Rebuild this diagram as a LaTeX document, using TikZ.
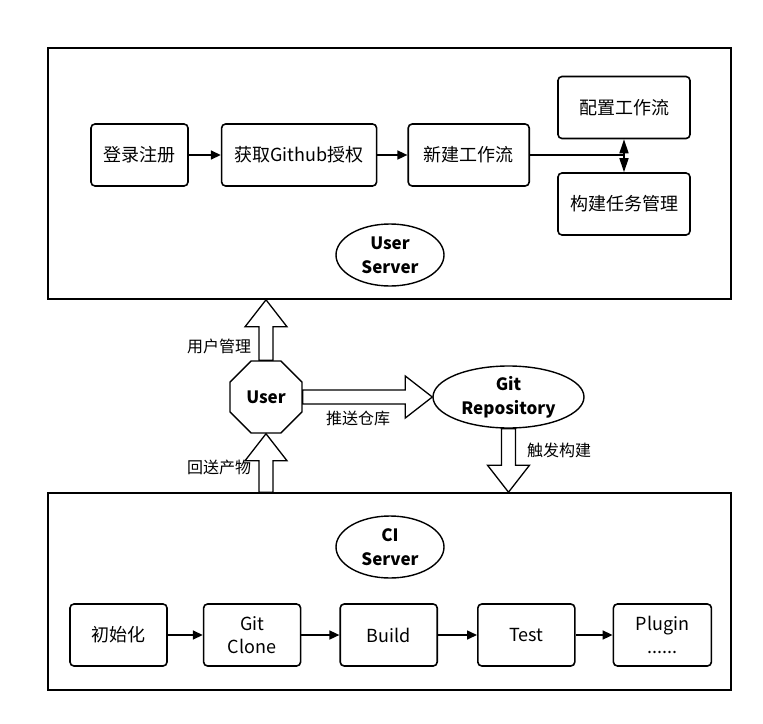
\documentclass[tikz,border=0pt]{standalone}
\usepackage{fontspec}
\setmainfont{Noto Sans CJK SC}
\usetikzlibrary{positioning, arrows.meta, shapes.geometric, calc}
\tikzset{
>={Triangle[length=10pt,width=9pt]}, % small filled arrow heads
node distance=32pt, % gap between two boxes of a row
every node/.style={font=\fontsize{18}{23}\selectfont},
task/.style={draw, line width=1.6pt, rounded corners=4pt, minimum width=97pt, minimum height=62pt, inner sep=0pt, align=center}, % one step of a flow
area/.style={draw, line width=1.6pt, minimum width=683pt, inner sep=0pt}, % a server frame
server/.style={draw, ellipse, line width=1.4pt, minimum width=108pt, minimum height=62pt, inner sep=0pt, align=center, font=\bfseries\fontsize{17}{24}\selectfont},
note/.style={font=\fontsize{16}{20}\selectfont}, % text beside a big arrow
flow/.style={->, line width=1.6pt},
fat/.style={draw, fill=white, line width=1.3pt, line join=miter},
}
% hollow block arrow from #1 to #2
\newcommand{\fatarrow}[2]{%
  \draw[fat] let \p1=(#1), \p2=(#2), \n1={veclen(\x2-\x1,\y2-\y1)},
    \n2={(\x2-\x1)/\n1}, \n3={(\y2-\y1)/\n1} in
    ({\x1-(\n3)*7pt},{\y1+(\n2)*7pt})
    -- ({\x2-(\n2)*27pt-(\n3)*7pt},{\y2-(\n3)*27pt+(\n2)*7pt})
    -- ({\x2-(\n2)*27pt-(\n3)*21pt},{\y2-(\n3)*27pt+(\n2)*21pt})
    -- (\p2)
    -- ({\x2-(\n2)*27pt+(\n3)*21pt},{\y2-(\n3)*27pt-(\n2)*21pt})
    -- ({\x2-(\n2)*27pt+(\n3)*7pt},{\y2-(\n3)*27pt-(\n2)*7pt})
    -- ({\x1+(\n3)*7pt},{\y1-(\n2)*7pt}) -- cycle;}

\begin{document}
\begin{tikzpicture}[x=1pt, y=-1pt]
      \useasboundingbox (0,0) rectangle (763,723);
      % user server
      \node[area, minimum height=251pt] (userbox) at (389.5,173.5) {};
      \node[task] (login) at (139.5,155) {登录注册};
      \node[task, right=of login, minimum width=155pt] (oauth) {获取Github授权};
      \node[task, right=30pt of oauth, minimum width=121pt] (newflow) {新建工作流};
      \node[task, minimum width=132pt] (config) at (624,107.5) {配置工作流};
      \node[task, minimum width=132pt] (manage) at (624,204) {构建任务管理};
      \node[server] (userserver) at (390,255) {User\\Server};
      \draw[flow] (login) -- (oauth);
      \draw[flow] (oauth) -- (newflow);
      \draw[line width=1.6pt] (newflow) -- (newflow -| config.south);
      \draw[line width=1.6pt, {Triangle[length=14pt,width=9pt]}-{Triangle[length=14pt,width=9pt]}] (config.south) -- (manage.north);

      % ci server
      \node[area, minimum height=197pt] (cibox) at (389.5,591.5) {};
      \node[server] (ciserver) at (390,547) {CI\\Server};
      \node[task] (init) at (118.5,635) {初始化};
      \node[task, right=35pt of init] (clone) {Git\\Clone};
      \node[task, right=38pt of clone] (build) {Build};
      \node[task, right=39pt of build] (test) {Test};
      \node[task, right=37pt of test, minimum width=98pt] (plugin) {Plugin\\......};
      \draw[flow] (init) -- (clone);
      \draw[flow] (clone) -- (build);
      \draw[flow] (build) -- (test);
      \draw[flow] (test) -- (plugin);

      % user and repository
      \node[draw, regular polygon, regular polygon sides=8, minimum size=78pt, inner sep=0pt, line width=1.4pt, font=\bfseries\fontsize{17}{24}\selectfont] (user) at (266,397) {User};
      \node[server, minimum width=151pt] (repo) at (508.5,397) {Git\\Repository};
      \fatarrow{user.north}{user.north |- userbox.south}
      \fatarrow{user.south |- cibox.north}{user.south}
      \fatarrow{user.east}{repo.west}
      \fatarrow{repo.south}{repo.south |- cibox.north}
      \node[note] (mgmt) at (219,346) {用户管理};
      \node[note] (back) at (219,467) {回送产物};
      \node[note] (push) at (358,418) {推送仓库};
      \node[note] (trigger) at (559,450) {触发构建};
\end{tikzpicture}
\end{document}
